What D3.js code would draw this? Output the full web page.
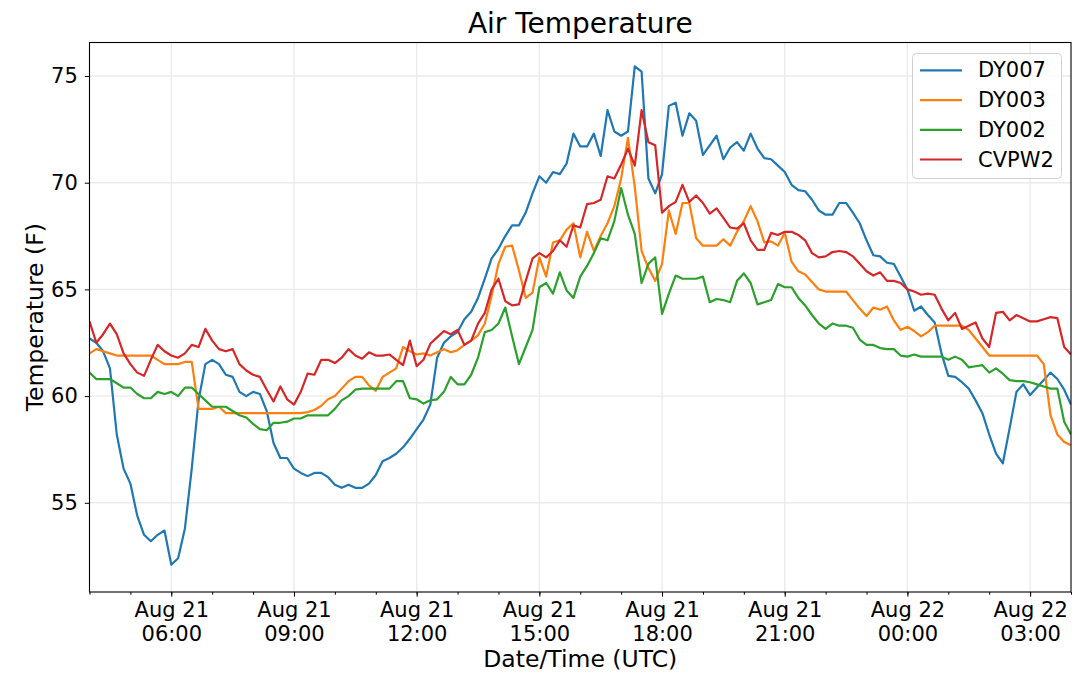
<!DOCTYPE html>
<html>
<head>
<meta charset="utf-8">
<script src="https://cdn.jsdelivr.net/npm/d3@7"></script>
<style>
    body { margin: 0; background: #fff; }
    svg text { font-family: "DejaVu Sans", sans-serif; fill: #000; }
</style>
</head>
<body>
<svg id="chart"></svg>
<script>
// 10 minute readings, Aug 21 04:00 UTC -> Aug 22 04:00 UTC
const startTime = Date.UTC(2019, 7, 21, 4, 0);
const stepMs = 10 * 60 * 1000;

const dy007 = [
    62.7, 62.5, 62.1, 61.3, 58.2, 56.6, 55.9, 54.4, 53.5, 53.2, 53.5, 53.7, 52.1, 52.4, 53.8, 56.6, 59.8, 61.5, 61.7, 61.5, 61.0, 60.9, 60.2, 60.0, 60.2,
    60.1, 59.3, 57.8, 57.1, 57.1, 56.6, 56.4, 56.25, 56.4, 56.4, 56.2, 55.85, 55.7, 55.85, 55.7, 55.7, 55.9, 56.3, 56.95, 57.1, 57.3, 57.6, 58.0, 58.45,
    58.9, 59.6, 61.8, 62.5, 62.8, 63.0, 63.6, 63.95, 64.6, 65.5, 66.45, 66.9, 67.5, 68.0, 68.0, 68.6, 69.5, 70.3, 70.0, 70.5, 70.4, 70.9, 72.3,
    71.7, 71.7, 72.3, 71.25, 73.4, 72.4, 72.2, 72.4, 75.45, 75.2, 70.2, 69.5, 70.4, 73.6, 73.75, 72.2, 73.25, 72.9, 71.3, 71.75, 72.2, 71.1, 71.65, 71.9,
    71.5, 72.3, 71.6, 71.15, 71.1, 70.8, 70.5, 69.9, 69.65, 69.6, 69.2, 68.7, 68.5, 68.5, 69.05, 69.05, 68.6, 68.1, 67.3, 66.6, 66.55, 66.25, 66.2, 65.6,
    65.0, 64.0, 64.2, 63.8, 63.45, 62.0, 60.95, 60.9, 60.65, 60.35, 59.8, 59.2, 58.2, 57.3, 56.85, 58.5, 60.2, 60.55, 60.05, 60.4, 60.75, 61.1, 60.8, 60.3, 59.6
];
const dy003 = [
    62.0, 62.2, 62.1, 62.0, 61.9, 61.9, 61.9, 61.9, 61.9, 61.9, 61.7, 61.5, 61.5, 61.5, 61.6, 61.6, 59.4, 59.4, 59.4, 59.5, 59.2, 59.2, 59.2, 59.2, 59.2,
    59.2, 59.2, 59.2, 59.2, 59.2, 59.2, 59.2, 59.25, 59.35, 59.55, 59.85, 60.0, 60.35, 60.7, 60.9, 60.9, 60.5, 60.25, 60.9, 61.1, 61.3, 62.3, 62.1, 61.95,
    62.0, 61.9, 62.05, 62.2, 62.05, 62.15, 62.4, 62.6, 62.85, 63.4, 64.7, 66.2, 67.0, 67.05, 65.9, 64.6, 64.85, 66.5, 65.6, 67.2, 67.3, 67.8, 68.1,
    66.5, 67.7, 66.8, 67.5, 68.1, 68.9, 70.2, 72.1, 69.8, 66.8, 66.0, 65.4, 66.2, 68.7, 67.6, 69.05, 69.05, 67.4, 67.05, 67.05, 67.05, 67.35, 67.05, 67.7,
    68.2, 68.9, 68.2, 67.2, 67.25, 67.05, 67.65, 66.3, 65.85, 65.7, 65.35, 65.0, 64.9, 64.9, 64.9, 64.9, 64.5, 64.1, 63.75, 64.15, 64.05, 64.2, 63.55, 63.1,
    63.25, 63.05, 62.8, 63.0, 63.3, 63.3, 63.3, 63.3, 63.3, 63.1, 62.7, 62.3, 61.9, 61.9, 61.9, 61.9, 61.9, 61.9, 61.9, 61.9, 61.5, 59.1, 58.2, 57.85, 57.7
];
const dy002 = [
    61.1, 60.8, 60.8, 60.8, 60.6, 60.4, 60.4, 60.1, 59.9, 59.9, 60.2, 60.1, 60.2, 60.0, 60.4, 60.4, 60.1, 59.8, 59.5, 59.5, 59.5, 59.3, 59.1, 59.0, 58.7,
    58.45, 58.4, 58.75, 58.75, 58.8, 58.95, 58.95, 59.1, 59.1, 59.1, 59.1, 59.4, 59.8, 60.0, 60.3, 60.35, 60.35, 60.35, 60.35, 60.35, 60.7, 60.7, 59.9, 59.85,
    59.65, 59.8, 59.85, 60.2, 60.9, 60.55, 60.55, 61.0, 61.8, 63.0, 63.1, 63.4, 64.15, 62.8, 61.5, 62.3, 63.1, 65.1, 65.3, 64.8, 65.8, 64.95, 64.6,
    65.6, 66.1, 66.7, 67.4, 67.3, 68.2, 69.75, 68.5, 67.6, 65.3, 66.2, 66.5, 63.85, 64.8, 65.65, 65.5, 65.5, 65.5, 65.6, 64.4, 64.55, 64.5, 64.4, 65.4,
    65.75, 65.3, 64.3, 64.4, 64.5, 65.25, 65.1, 65.1, 64.6, 64.25, 63.8, 63.4, 63.15, 63.4, 63.3, 63.3, 63.2, 62.65, 62.4, 62.4, 62.25, 62.2, 62.2, 61.9,
    61.85, 61.95, 61.85, 61.85, 61.85, 61.85, 61.7, 61.85, 61.7, 61.35, 61.4, 61.45, 61.1, 61.3, 61.05, 60.75, 60.7, 60.7, 60.65, 60.55, 60.45, 60.35, 60.35, 58.8, 58.2
];
const cvpw2 = [
    63.5, 62.5, 62.9, 63.4, 62.9, 62.0, 61.5, 61.1, 60.95, 61.7, 62.4, 62.1, 61.9, 61.8, 62.0, 62.4, 62.3, 63.15, 62.6, 62.2, 62.1, 62.2, 61.5, 61.2, 61.0,
    60.9, 60.3, 59.75, 60.45, 59.85, 59.6, 60.2, 61.05, 61.0, 61.7, 61.7, 61.55, 61.8, 62.2, 61.9, 61.75, 62.05, 61.9, 61.9, 61.95, 61.7, 61.45, 62.6, 61.4,
    61.7, 62.45, 62.75, 63.05, 62.9, 63.1, 62.4, 62.6, 63.4, 63.9, 65.0, 65.5, 64.45, 64.25, 64.3, 65.4, 66.45, 66.7, 66.5, 66.8, 67.3, 67.0, 68.0,
    67.9, 69.0, 69.05, 69.2, 70.3, 70.2, 70.85, 71.6, 70.8, 73.4, 71.9, 71.75, 68.6, 68.9, 69.1, 69.9, 69.1, 69.4, 69.05, 68.55, 68.8, 68.35, 67.9, 67.85,
    68.1, 67.3, 66.85, 66.85, 67.65, 67.55, 67.7, 67.7, 67.55, 67.3, 66.7, 66.5, 66.55, 66.75, 66.8, 66.75, 66.55, 66.2, 65.85, 65.65, 65.8, 65.4, 65.4, 65.3,
    65.0, 64.9, 64.75, 64.8, 64.75, 64.1, 63.55, 63.9, 63.15, 63.3, 63.45, 62.7, 62.3, 63.9, 63.95, 63.55, 63.8, 63.65, 63.5, 63.5, 63.6, 63.7, 63.65, 62.3, 61.95
];

const seriesNames = ["DY007", "DY003", "DY002", "CVPW2"];
const seriesValues = [dy007, dy003, dy002, cvpw2];
const seriesColors = ["#1f77b4", "#ff7f0e", "#2ca02c", "#d62728"];
const yTicks = [55, 60, 65, 70, 75];

const width = 1080, height = 685;
const plotLeft = 89.5, plotRight = 1071, plotTop = 42.5, plotBottom = 592;

const svg = d3.select("#chart")
    .attr("width", width)
    .attr("height", height)
    .attr("viewBox", `0 0 ${width} ${height}`);

const x = d3.scaleUtc()
    .domain([new Date(startTime), new Date(startTime + 24 * 3600 * 1000)])
    .range([plotLeft, plotRight]);

const y = d3.scaleLinear()
    .domain([50.82, 76.57])
    .range([plotBottom, plotTop]);

const majorTicks = d3.utcHour.every(3).range(x.domain()[0], x.domain()[1]);
const minorTicks = d3.utcHour.every(1).range(x.domain()[0], new Date(+x.domain()[1] + 1));

// grid
svg.append("g")
    .selectAll("line.vgrid")
    .data(majorTicks)
    .join("line")
    .attr("x1", d => x(d)).attr("x2", d => x(d))
    .attr("y1", plotTop).attr("y2", plotBottom)
    .attr("stroke", "#ebebeb").attr("stroke-width", 1.4);

svg.append("g")
    .selectAll("line.hgrid")
    .data(yTicks)
    .join("line")
    .attr("x1", plotLeft).attr("x2", plotRight)
    .attr("y1", d => y(d)).attr("y2", d => y(d))
    .attr("stroke", "#ebebeb").attr("stroke-width", 1.4);

// lines
svg.append("clipPath").attr("id", "plotClip")
    .append("rect")
    .attr("x", plotLeft).attr("y", plotTop)
    .attr("width", plotRight - plotLeft).attr("height", plotBottom - plotTop);

const line = d3.line()
    .x((d, i) => x(new Date(startTime + i * stepMs)))
    .y(d => y(d));

seriesValues.forEach((vals, k) => {
    svg.append("path")
        .datum(vals)
        .attr("clip-path", "url(#plotClip)")
        .attr("fill", "none")
        .attr("stroke", seriesColors[k])
        .attr("stroke-width", 2.2)
        .attr("stroke-linejoin", "round")
        .attr("d", line);
});

// axes
const fmtDay = d3.utcFormat("%b %d");
const fmtHour = d3.utcFormat("%H:%M");

const xMinor = svg.append("g")
    .attr("transform", `translate(0,${plotBottom})`)
    .call(d3.axisBottom(x).tickValues(minorTicks).tickSize(2.7).tickFormat(""));
xMinor.select(".domain").remove();
xMinor.selectAll(".tick line").attr("stroke", "#000").attr("stroke-width", 1);

const xAxis = svg.append("g")
    .attr("transform", `translate(0,${plotBottom})`)
    .call(d3.axisBottom(x).tickValues(majorTicks).tickSize(4.7).tickFormat(""));
xAxis.select(".domain").remove();
xAxis.selectAll(".tick line").attr("stroke", "#000").attr("stroke-width", 1);
xAxis.selectAll(".tick").each(function (d) {
    const t = d3.select(this).append("text")
        .attr("text-anchor", "middle")
        .attr("font-size", 21)
        .attr("y", 24.5);
    t.append("tspan").attr("x", 0).text(fmtDay(d));
    t.append("tspan").attr("x", 0).attr("dy", 24).text(fmtHour(d));
});

const yAxis = svg.append("g")
    .attr("transform", `translate(${plotLeft},0)`)
    .call(d3.axisLeft(y).tickValues(yTicks).tickSize(4.7).tickPadding(7));
yAxis.select(".domain").remove();
yAxis.selectAll(".tick line").attr("stroke", "#000").attr("stroke-width", 1);
yAxis.selectAll(".tick text")
    .attr("font-size", 21)
    .attr("font-family", "DejaVu Sans, sans-serif")
    .attr("fill", "#000");

// frame
svg.append("rect")
    .attr("x", plotLeft).attr("y", plotTop)
    .attr("width", plotRight - plotLeft).attr("height", plotBottom - plotTop)
    .attr("fill", "none").attr("stroke", "#000").attr("stroke-width", 1.1);

// labels
svg.append("text")
    .attr("x", (plotLeft + plotRight) / 2).attr("y", 33)
    .attr("text-anchor", "middle")
    .attr("font-size", 28)
    .text("Air Temperature");

svg.append("text")
    .attr("x", (plotLeft + plotRight) / 2).attr("y", 667)
    .attr("text-anchor", "middle")
    .attr("font-size", 23.5)
    .text("Date/Time (UTC)");

svg.append("text")
    .attr("transform", `translate(43,${(plotTop + plotBottom) / 2}) rotate(-90)`)
    .attr("text-anchor", "middle")
    .attr("font-size", 23.5)
    .text("Temperature (F)");

// legend
const legend = svg.append("g");
legend.append("rect")
    .attr("x", 912.5).attr("y", 53.5)
    .attr("width", 149).attr("height", 125)
    .attr("rx", 4)
    .attr("fill", "#fff").attr("fill-opacity", 0.8)
    .attr("stroke", "#d0d0d0").attr("stroke-width", 1);

seriesNames.forEach((name, k) => {
    const cy = 70.4 + k * 29.7;
    legend.append("line")
        .attr("x1", 920).attr("x2", 962)
        .attr("y1", cy).attr("y2", cy)
        .attr("stroke", seriesColors[k]).attr("stroke-width", 2.2);
    legend.append("text")
        .attr("x", 978).attr("y", cy)
        .attr("dominant-baseline", "central")
        .attr("font-size", 21)
        .text(name);
});
</script>
</body>
</html>
